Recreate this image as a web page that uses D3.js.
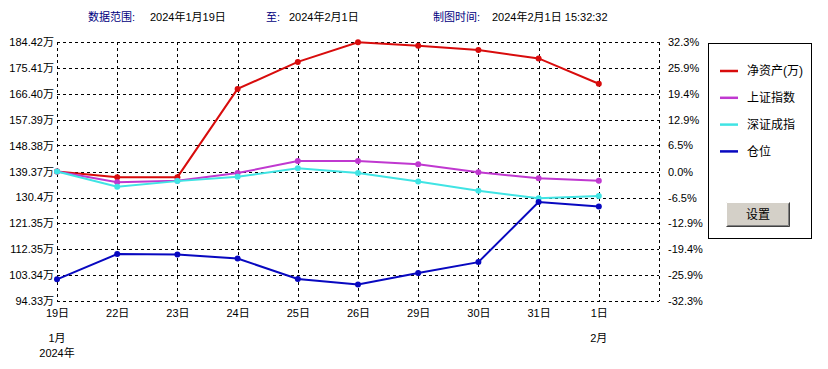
<!DOCTYPE html>
<meta charset="utf-8">
<style>
body { margin: 0; background: #fff; }
svg { font-family: "Liberation Sans", "Noto Sans CJK SC", sans-serif; font-size: 11px; }
.grid line { stroke: #000; stroke-dasharray: 3,3; shape-rendering: crispEdges; }
.grid .domain { stroke: none; }
.lbl text { fill: #000; }
.lbl .domain, .lbl line { stroke: none; }
.legend text { font-size: 12px; }
</style>
<body>
<script src="https://d3js.org/d3.v7.min.js"></script>
<script>

// categories (trading days) and the month / year rows under them
var days = ["19日", "22日", "23日", "24日", "25日", "26日", "29日", "30日", "31日", "1日"];
var months = ["1月", "", "", "", "", "", "", "", "", "2月"];
var years = ["2024年"];

// left axis (净资产, 万) and right axis (%)
var leftTicks = ["94.33", "103.34", "112.35", "121.35", "130.4", "139.37", "148.38", "157.39", "166.40", "175.41", "184.42"];
var rightTicks = ["-32.3", "-25.9", "-19.4", "-12.9", "-6.5", "0.0", "6.5", "12.9", "19.4", "25.9", "32.3"];

// series
var netAsset = [139.37, 137.4, 137.4, 168.1, 177.5, 184.3, 183.1, 181.6, 178.7, 169.9]; // 万
var shIndex = [0, -2.7, -2.3, -0.4, 2.6, 2.6, 1.8, -0.2, -1.7, -2.3];   // %
var szIndex = [0, -3.8, -2.4, -1.3, 0.8, -0.4, -2.5, -4.8, -6.7, -6.1]; // %
var position = [-26.9, -20.6, -20.7, -21.7, -26.8, -28.2, -25.3, -22.6, -7.6, -8.7]; // on % axis

var legendNames = ["净资产(万)", "上证指数", "深证成指", "仓位"];
var colors = ["#d80c0c", "#c038d0", "#40e4e4", "#0808c0"];

var W = 828, H = 369;
var margin = {left: 57, right: 169, top: 42, bottom: 68};
var width = W - margin.left - margin.right,
    height = H - margin.top - margin.bottom;

var svg = d3.select("body").append("svg")
    .attr("width", W)
    .attr("height", H);

// header
var header = svg.append("g").attr("transform", "translate(0,21)");
[[88, "数据范围:", "#000080"], [150, "2024年1月19日", "#000"],
 [266, "至:", "#000080"], [289, "2024年2月1日", "#000"],
 [433, "制图时间:", "#000080"], [492, "2024年2月1日 15:32:32", "#000"]].forEach(function(h) {
  header.append("text").attr("x", h[0]).attr("fill", h[2]).text(h[1]);
});

var g = svg.append("g")
    .attr("transform", "translate(" + margin.left + "," + margin.top + ")");

var x = d3.scaleLinear().domain([0, days.length]).range([0, width]);
var yL = d3.scaleLinear().domain([+leftTicks[0], +leftTicks[leftTicks.length - 1]]).range([height, 0]);
var yR = d3.scaleLinear().domain([+rightTicks[0], +rightTicks[rightTicks.length - 1]]).range([height, 0]);

// horizontal grid (incl. top & bottom border)
g.append("g")
    .attr("class", "grid")
    .call(d3.axisLeft(yR).tickValues(rightTicks.map(Number)).tickSize(-width).tickFormat(""));

// vertical grid (incl. left & right border)
g.append("g")
    .attr("class", "grid")
    .call(d3.axisBottom(x).tickValues(d3.range(days.length + 1)).tickSize(height).tickFormat(""));

// left labels
g.append("g")
    .attr("class", "lbl")
    .call(d3.axisLeft(yL).tickValues(leftTicks.map(Number)).tickSize(0).tickPadding(3)
      .tickFormat(function(d, i) { return leftTicks[i] + "万"; }))
    .attr("font-family", null).attr("font-size", null);

// right labels
g.append("g")
    .attr("class", "lbl")
    .attr("transform", "translate(" + width + ",0)")
    .call(d3.axisRight(yR).tickValues(rightTicks.map(Number)).tickSize(0).tickPadding(9)
      .tickFormat(function(d, i) { return rightTicks[i] + "%"; }))
    .attr("font-family", null).attr("font-size", null);

// bottom labels: day / month / year
g.append("g")
    .attr("class", "lbl")
    .attr("transform", "translate(0," + height + ")")
    .call(d3.axisBottom(x).tickValues(d3.range(days.length)).tickSize(0).tickPadding(8)
      .tickFormat(function(d) { return days[d]; }))
    .attr("font-family", null).attr("font-size", null);

months.forEach(function(m, i) {
  if (!m) return;
  g.append("text").attr("x", x(i)).attr("y", height + 41).attr("text-anchor", "middle").text(m);
});
g.append("text").attr("x", x(0)).attr("y", height + 56).attr("text-anchor", "middle").text(years[0]);

// series
var series = [
  {vals: netAsset, y: yL},
  {vals: shIndex, y: yR},
  {vals: szIndex, y: yR},
  {vals: position, y: yR}
];

series.forEach(function(s, k) {
  var line = d3.line()
      .x(function(d, i) { return x(i); })
      .y(function(d) { return s.y(d); });
  g.append("path")
      .datum(s.vals)
      .attr("fill", "none")
      .attr("stroke", colors[k])
      .attr("stroke-width", 2)
      .attr("d", line);
  g.selectAll(null)
      .data(s.vals)
      .enter().append("circle")
      .attr("cx", function(d, i) { return x(i); })
      .attr("cy", function(d) { return s.y(d); })
      .attr("r", 3)
      .attr("fill", colors[k]);
});

// legend box
var lg = svg.append("g").attr("class", "legend").attr("transform", "translate(708,43)");
lg.append("rect")
    .attr("x", 0.5).attr("y", 0.5)
    .attr("width", 103).attr("height", 195)
    .attr("fill", "#fff").attr("stroke", "#000");

legendNames.forEach(function(n, i) {
  var yy = 28 + i * 26.8;
  lg.append("line")
      .attr("x1", 12).attr("x2", 30)
      .attr("y1", yy).attr("y2", yy)
      .attr("stroke", colors[i]).attr("stroke-width", 2.5);
  lg.append("text")
      .attr("x", 39).attr("y", yy).attr("dy", "0.35em")
      .text(n);
});

// 设置 button
var btn = lg.append("g").attr("transform", "translate(18,159)");
btn.append("rect").attr("width", 64).attr("height", 25).attr("fill", "#d4d0c8");
btn.append("path").attr("d", "M0.5,24.5V0.5H63.5").attr("fill", "none").attr("stroke", "#fff");
btn.append("path").attr("d", "M0.5,24.5H63.5V0.5").attr("fill", "none").attr("stroke", "#404040");
btn.append("path").attr("d", "M1.5,23.5H62.5V1.5").attr("fill", "none").attr("stroke", "#808080");
btn.append("text").attr("x", 32).attr("y", 12.5).attr("dy", "0.35em")
    .attr("text-anchor", "middle").text("设置");

</script>
</body>
